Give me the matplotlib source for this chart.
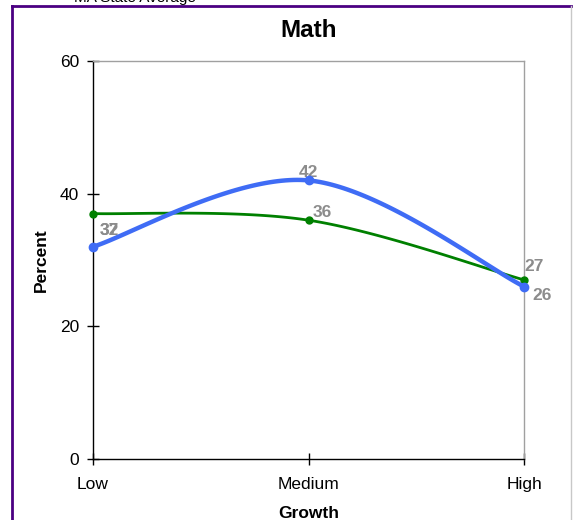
import numpy as np
import matplotlib
matplotlib.use('Agg')
import matplotlib.pyplot as plt
from matplotlib.lines import Line2D

plt.rcParams['font.family'] = ['Liberation Sans', 'DejaVu Sans']

categories = ['Low', 'Medium', 'High']
school = [32, 42, 26]
state = [37, 36, 27]
yticks = [0, 20, 40, 60]


def smooth(xs, ys, n=60):
    # excel-like smoothed line: cubic bezier with catmull-rom tangents
    px = [xs[0]] + list(xs) + [xs[-1]]
    py = [ys[0]] + list(ys) + [ys[-1]]
    outx, outy = [], []
    t = np.linspace(0, 1, n)
    for i in range(1, len(px) - 2):
        x0, y0 = px[i], py[i]
        x3, y3 = px[i + 1], py[i + 1]
        x1 = x0 + (px[i + 1] - px[i - 1]) / 6
        y1 = y0 + (py[i + 1] - py[i - 1]) / 6
        x2 = x3 - (px[i + 2] - px[i]) / 6
        y2 = y3 - (py[i + 2] - py[i]) / 6
        bx = (1-t)**3*x0 + 3*(1-t)**2*t*x1 + 3*(1-t)*t**2*x2 + t**3*x3
        by = (1-t)**3*y0 + 3*(1-t)**2*t*y1 + 3*(1-t)*t**2*y2 + t**3*y3
        outx.extend(bx)
        outy.extend(by)
    return outx, outy


fig = plt.figure(figsize=(5.73, 5.20), dpi=100)
ax = fig.add_axes([0.1623, 0.1173, 0.7522, 0.7654])

x = np.arange(len(categories))
sx, sy = smooth(x, school)
gx, gy = smooth(x, state)
ax.plot(gx, gy, color='#008000', lw=2, zorder=3, clip_on=False)
ax.plot(x, state, 'o', color='#008000', ms=5, zorder=4, clip_on=False)
ax.plot(sx, sy, color='#3f6cf5', lw=3.2, zorder=5, clip_on=False)
ax.plot(x, school, 'o', color='#3f6cf5', ms=6, zorder=6, clip_on=False)

lab = dict(color='#8c8c8c', fontsize=12.5, fontweight='bold')
# low: both labels land on the same spot in the original
ax.text(0.03, 34.4, str(school[0]), ha='left', va='center', **lab)
ax.text(0.03, 34.4, str(state[0]), ha='left', va='center', **lab)
ax.text(1, school[1] + 0.1, str(school[1]), ha='center', va='bottom', **lab)
ax.text(1.02, state[1] + 0.1, str(state[1]), ha='left', va='bottom', **lab)
ax.text(2.0, state[2] + 0.9, str(state[2]), ha='left', va='bottom', **lab)
ax.text(2.04, school[2] - 1.3, str(school[2]), ha='left', va='center', **lab)

ax.set_xlim(0, 2)
ax.set_ylim(0, 60)
ax.set_xticks(x)
ax.set_xticklabels(categories, fontsize=12.5)
ax.set_yticks(yticks)
ax.set_yticklabels([str(v) for v in yticks], fontsize=12.5)
ax.tick_params(axis='both', direction='inout', length=8, width=1, color='black')
ax.tick_params(axis='x', pad=9)
ax.tick_params(axis='y', pad=6)
ax.spines['left'].set_color('black')
ax.spines['bottom'].set_color('black')
ax.spines['top'].set_color('#a0a0a0')
ax.spines['right'].set_color('#a0a0a0')
for s in ax.spines.values():
    s.set_linewidth(1)
ax.set_xlabel('Growth', fontsize=12.5, fontweight='bold', labelpad=10)
ax.set_ylabel('Percent', fontsize=12.5, fontweight='bold', labelpad=8)
ax.set_title('Math', fontsize=17.5, fontweight='bold', pad=17)

# outer frame and the cut-off legend line at the top
fig.add_artist(Line2D([0.021, 0.021], [0, 0.989], color='#4b0082', lw=2, transform=fig.transFigure))
fig.add_artist(Line2D([0.021, 0.997], [0.989, 0.989], color='#4b0082', lw=2, transform=fig.transFigure))
fig.add_artist(Line2D([0.997, 0.997], [0, 0.989], color='#c8c8c8', lw=1, transform=fig.transFigure))
fig.text(0.13, 1.003, 'MA State Average', fontsize=11, va='center', ha='left')

fig.savefig('out.png', dpi=100)
